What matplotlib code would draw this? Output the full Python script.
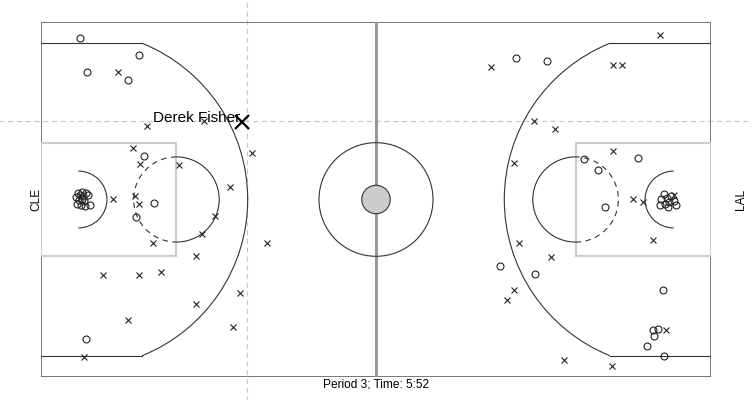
import matplotlib.pyplot as plt
from matplotlib.patches import Arc, Circle, Rectangle

plt.rcParams['font.family'] = ['Liberation Sans', 'DejaVu Sans']

# Shot locations in court feet (x along the 94 ft length, y across the 50 ft width)
made_x = [5.5, 13.7, 6.5, 12.2, 14.5, 15.8, 13.3, 6.3,
          4.9, 5.2, 5.5, 5.8, 6.3, 6.6, 5.3, 5.8, 6.0, 5.1, 5.6, 6.2, 6.9, 5.9,
          66.6, 71.0, 83.8, 76.2, 78.1, 79.1, 64.4, 69.3, 87.3, 85.8, 86.5, 86.0, 85.0, 87.4,
          87.0, 87.4, 87.8, 88.4, 86.8, 87.5, 88.1, 88.8, 89.1, 88.0]
made_y = [47.8, 45.3, 43.0, 41.9, 31.1, 24.5, 22.6, 5.4,
          25.4, 25.9, 25.6, 26.1, 25.9, 25.6, 24.9, 25.1, 24.8, 24.4, 24.2, 24.1, 24.2, 25.5,
          44.9, 44.5, 30.9, 30.7, 29.2, 24.0, 15.6, 14.5, 12.2, 6.6, 6.7, 5.8, 4.3, 2.9,
          25.1, 25.8, 25.2, 25.5, 24.2, 24.4, 24.7, 24.8, 24.2, 23.9]

missed_x = [10.8, 14.9, 22.8, 29.6, 12.9, 13.9, 19.4, 26.5, 10.1, 13.2, 13.7, 24.4,
            22.6, 15.7, 21.8, 31.7, 8.7, 13.7, 16.8, 27.9, 21.8, 12.2, 26.9, 6.1,
            86.8, 63.1, 80.3, 81.5, 69.2, 72.1, 66.3, 80.2, 83.0, 84.4, 85.8, 67.0,
            71.5, 66.4, 65.4, 87.7, 73.4, 80.1, 88.8]
missed_y = [43.0, 35.3, 36.0, 31.5, 32.2, 30.0, 29.8, 26.7, 25.1, 25.5, 24.3, 22.7,
            20.1, 18.9, 17.0, 18.9, 14.4, 14.4, 14.8, 11.9, 10.3, 8.0, 7.0, 2.8,
            48.2, 43.7, 43.9, 43.9, 36.1, 34.9, 30.2, 31.9, 25.1, 24.7, 19.3, 18.9,
            16.9, 12.2, 10.8, 6.6, 2.4, 1.5, 25.6]

# highlighted shot and the cursor crosshair
player = "Derek Fisher"
player_x, player_y = 28.2, 35.85
cursor_x, cursor_y = 28.97, 36.0

teams = ["CLE", "LAL"]
caption = "Period 3; Time: 5:52"

fig = plt.figure(figsize=(7.52, 4), dpi=100)
ax = fig.add_axes([41 / 752, 23 / 400, 670 / 752, 355 / 400])
ax.set_xlim(0, 94)
ax.set_ylim(0, 50)
ax.axis('off')

line_dark = '#333333'
key_grey = '#cccccc'

# court outline and half court line
ax.add_patch(Rectangle((0, 0), 94, 50, fill=False, ec='#777777', lw=1.4, zorder=1))
ax.plot([47, 47], [0, 50], color='#999999', lw=2.2, zorder=1)
ax.add_patch(Circle((47, 25), 8, fill=False, ec=line_dark, lw=0.8, zorder=2))
ax.add_patch(Circle((47, 25), 2, fc='#cccccc', ec=line_dark, lw=0.8, zorder=3))

# both halves of the court
for side in (0, 1):
    hoop = 5.25 if side == 0 else 94 - 5.25
    ft = 19 if side == 0 else 75
    base = 0 if side == 0 else 94
    flip = 0 if side == 0 else 180
    # key
    ax.add_patch(Rectangle((min(base, ft), 17), 19, 16, fill=False, ec=key_grey, lw=1.5, zorder=1))
    # free throw circle, solid away from basket and dashed inside the key
    ax.add_patch(Arc((ft, 25), 12, 12, theta1=-90 + flip, theta2=90 + flip,
                     ec=line_dark, lw=0.8, zorder=2))
    ax.add_patch(Arc((ft, 25), 12, 12, theta1=90 + flip, theta2=270 + flip,
                     ec=line_dark, lw=0.8, ls=(0, (5, 4)), zorder=2))
    # restricted area
    ax.add_patch(Arc((hoop, 25), 8, 8, theta1=-90 + flip, theta2=90 + flip,
                     ec=line_dark, lw=0.8, zorder=2))
    # three point line
    ax.add_patch(Arc((hoop, 25), 47.5, 47.5, theta1=-67.9 + flip, theta2=67.9 + flip,
                     ec=line_dark, lw=0.8, zorder=2))
    corner = 8.95 if side == 0 else -8.95
    for y in (3, 47):
        ax.plot([base, hoop + corner], [y, y], color=line_dark, lw=0.8, zorder=2)

# shots
ax.plot(made_x, made_y, 'o', ms=5, mfc='none', mec='#222222', mew=0.8, zorder=4)
ax.plot(missed_x, missed_y, 'x', ms=4.5, mec='#222222', mew=0.8, zorder=4)
ax.plot(player_x, player_y, 'x', ms=10, mec='black', mew=1.6, zorder=5)
ax.annotate(player, (player_x, player_y), xytext=(-1, 0), textcoords='offset points',
            ha='right', va='baseline', fontsize=11, zorder=6)

# crosshair running across the whole figure
ax.axvline(cursor_x, ymin=-0.1, ymax=1.1, color='#c8c8c8', lw=0.9, ls=(0, (4, 3)), clip_on=False, zorder=0)
ax.axhline(cursor_y, xmin=-0.1, xmax=1.1, color='#c8c8c8', lw=0.9, ls=(0, (4, 3)), clip_on=False, zorder=0)

# team labels and caption
ax.text(-0.0075, 0.5, teams[0], transform=ax.transAxes, rotation=90,
        ha='center', va='center', fontsize=8.6)
ax.text(1.045, 0.5, teams[1], transform=ax.transAxes, rotation=90,
        ha='center', va='center', fontsize=8.6)
ax.text(0.5, -0.02, caption, transform=ax.transAxes, ha='center', va='center', fontsize=8.6)

fig.savefig('out.png', dpi=100)
